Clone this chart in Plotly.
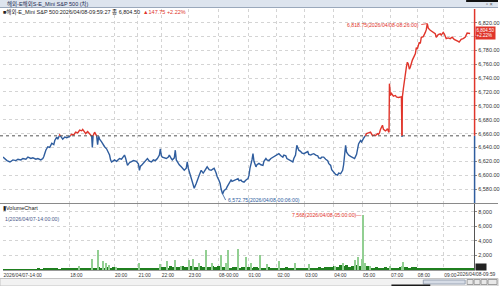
import plotly.graph_objects as go

# ---------------- data ----------------
title_text = "해외-E해외S-E_Mini S&P 500 (차)"
header_main = "■해외-E_Mini S&P 500:2026/04/08-09:59:27 종 6,804.50"
header_change = "▲147.75 +2.22%"
ref_price = 6656.75
last_price = 6804.50
last_change_pct = "+2.22%"

# time axis (bar-index positions of the hour labels)
tick_pos = [0, 67, 112, 135.5, 159, 186, 216.5, 246, 275, 303, 332, 361, 389, 416, 442.5]
tick_text = ["2026/04/07-14:00", "18:00", "20:00", "21:00", "22:00", "23:00", "08-00:00",
             "01:00", "02:00", "03:00", "04:00", "05:00", "07:00", "08:00", "09:00"]
end_label = "2026/04/08-09:59"
x_max = 473

price_ticks = [6580, 6600, 6620, 6640, 6660, 6680, 6700, 6720, 6740, 6760, 6780, 6800, 6820]
price_tick_text = ["6,580.00", "6,600.00", "6,620.00", "6,640.00", "6,660.00", "6,680.00", "6,700.00",
                   "6,720.00", "6,740.00", "6,760.00", "6,780.00", "", "6,820.00"]
vol_ticks = [2000, 4000, 6000, 8000]

# price line (bar index, price)
bar_idx = [0, 2, 4, 7, 10, 13, 15, 18, 20, 23, 25, 28, 30, 33, 35, 38, 40, 41, 43, 45, 47, 49, 51, 52,
           54, 55, 57, 59, 60, 62, 64, 67, 69, 71, 73, 75, 77, 79, 80, 82, 83, 85, 86, 88, 89, 89.7,
           90.5, 92, 94, 95, 96, 97, 99, 100, 102, 104, 106, 107, 108, 109, 111, 112, 114, 117, 119,
           122, 123, 125, 127, 129, 131, 134, 136, 137, 138, 139, 142, 144, 145, 147, 149, 151, 153,
           155, 157, 158, 159, 160, 162, 164, 166, 167, 169, 170, 172, 173, 174, 175, 177, 179, 181,
           182, 184, 185, 186, 187, 189, 190, 192, 194, 195, 197, 199, 201, 202, 204, 205, 207, 209,
           211, 212, 214, 215, 217, 218, 219, 220.5, 222, 224, 225, 227, 229, 230, 232, 234, 236, 237,
           239, 240, 242, 244, 246, 247, 248, 250, 251, 252, 254, 255, 257, 259, 261, 262, 264, 265,
           267, 269, 271, 272, 274, 275, 277, 279, 281, 282, 284, 285, 287, 289, 291, 292, 293.7, 295,
           297, 299, 300, 302, 304, 306, 307, 309, 310, 312, 314, 316, 317, 319, 320, 322, 324, 326,
           327, 329, 330, 332, 334, 336, 337, 339, 341, 342, 343, 344, 345, 347, 349, 351, 352, 353,
           355, 356, 357, 359, 360, 362, 363, 365, 367, 369, 371, 373, 374, 376, 377, 378, 379, 380,
           381, 382, 384, 385, 386, 387, 387.6, 388, 389, 390, 392, 394, 395, 397, 399, 400, 400.6,
           401, 402, 403, 404, 405, 406, 407, 408, 409, 411, 412, 414, 415, 416, 418, 419, 420, 422,
           424, 425, 426, 427, 429, 430, 432, 434, 435, 437, 439, 440, 442, 443, 445, 447, 449, 451,
           453, 455, 457, 458, 460, 462, 464, 466, 468, 469]
price = [6626, 6623, 6621, 6619, 6622, 6621, 6623, 6622, 6624, 6623, 6626, 6624, 6625, 6623, 6624, 6622,
         6624, 6627, 6636, 6641, 6640, 6646, 6644, 6650, 6655, 6652, 6658, 6654, 6652, 6655, 6654,
         6656, 6659, 6658, 6662, 6661, 6665, 6664, 6666, 6662, 6660, 6663, 6661, 6658, 6657, 6640,
         6657, 6662, 6657, 6644, 6656, 6652, 6648, 6645, 6641, 6638, 6632, 6629, 6622, 6619, 6621,
         6622, 6620, 6624, 6623, 6629, 6625, 6614, 6618, 6619, 6621, 6620, 6616, 6607, 6613, 6614,
         6619, 6621, 6624, 6620, 6619, 6622, 6621, 6624, 6629, 6638, 6628, 6626, 6625, 6624, 6626,
         6629, 6624, 6622, 6625, 6636, 6622, 6619, 6615, 6612, 6609, 6607, 6610, 6619, 6610, 6605,
         6595, 6590, 6581, 6588, 6593, 6600, 6607, 6603, 6605, 6610, 6612, 6608, 6607, 6609, 6610,
         6603, 6598, 6592, 6588, 6580, 6572.75, 6578, 6580, 6583, 6588, 6593, 6591, 6592, 6594, 6595,
         6592, 6593, 6591, 6590, 6593, 6595, 6600, 6610, 6622, 6631, 6620, 6612, 6615, 6617, 6615,
         6614, 6620, 6624, 6622, 6621, 6624, 6626, 6627, 6629, 6630, 6631, 6628, 6626, 6629, 6628,
         6624, 6622, 6620, 6619, 6624, 6629, 6643, 6636, 6634, 6632, 6631, 6632, 6634, 6630, 6629,
         6630, 6631, 6629, 6628, 6625, 6624, 6626, 6626, 6623, 6621, 6617, 6614, 6608, 6605, 6601,
         6600, 6603, 6602, 6607, 6615, 6626, 6643, 6633, 6629, 6627, 6626, 6625, 6624, 6630, 6641,
         6645, 6650, 6648, 6653, 6655, 6660, 6661, 6662, 6657, 6658, 6657, 6660, 6659, 6661, 6666,
         6670, 6672, 6666, 6664, 6665, 6667, 6663, 6662, 6732, 6715, 6718, 6714, 6715, 6713, 6712,
         6713, 6713, 6655, 6713, 6725, 6737, 6746, 6756, 6763, 6760, 6753, 6756, 6766, 6770, 6775,
         6784, 6782, 6792, 6790, 6799, 6800, 6806, 6810, 6818.75, 6812, 6809, 6808, 6806, 6804,
         6799, 6803, 6804, 6802, 6806, 6804, 6797, 6798, 6797, 6799, 6796, 6795, 6793, 6792, 6796,
         6797, 6799, 6805, 6804, 6804.5]

# volume: regular background bars + larger prints
base_vol = [80, 60, 110, 70, 90, 130, 60, 100, 80, 120, 70, 90, 150, 110,
            180, 140, 220, 160, 250, 130, 200, 170, 230,
            260, 190, 300, 220, 180, 280, 240,
            320, 260, 380, 300, 240, 350, 280, 400, 310, 260, 330,
            220, 180, 270, 200, 300, 160, 240, 210, 290, 190, 260, 230,
            380, 450, 320, 520, 410, 360, 480, 550, 390, 440, 500, 370, 460, 530, 420, 480, 390, 510,
            450, 560, 430, 470,
            400, 330, 450, 370, 300, 420, 350, 380, 310, 440, 360,
            280, 320, 240, 350, 260, 300, 220, 330, 270, 380, 250, 310, 290, 240, 340, 270, 300, 230,
            320, 260, 350, 290, 370, 410,
            480, 560, 420, 640, 520, 700, 460, 590, 650, 520, 610, 480, 550,
            320, 260, 380, 300, 240, 350, 280, 220, 310, 270,
            420, 360, 480, 300, 450, 380, 330,
            240, 180, 260, 150, 220, 200, 170, 250, 190, 140, 230, 180, 160, 210, 150, 190, 170, 220]
base_idx = list(range(0, 472, 3))
spike_idx = [77, 89.7, 96, 101, 103.7, 107, 113.7, 137, 157.7, 165.3, 173, 178.7, 187, 191.3, 197,
             204.3, 210.3, 218.7, 223.7, 226.3, 236.3, 243.7, 249.3, 258.7, 265.3, 277, 293.7, 307,
             333.7, 341.3, 353.7, 356.3, 360.3, 362, 363.7, 368.7, 388.7, 400.3, 402]
spike_vol = [500, 1560, 2700, 1230, 900, 700, 400, 900, 800, 1230, 1370, 600, 1370, 1500, 900,
             2700, 1000, 2000, 900, 2800, 2900, 1800, 1000, 2000, 800, 1230, 1000, 800,
             600, 1000, 1370, 1800, 1560, 7568, 1000, 600, 500, 600, 1100]
vol_max = 7568
vol_max_label = "7,568(2026/04/08-05:00:00)"
peak_label = "6,818.75(2026/04/08-08:26:00)"
low_label = "6,572.75(2026/04/08-00:06:00)"

# ---------------- helpers ----------------
W, H = 500, 286
def px(x):
    return x / W
def py(y):
    return 1 - y / H

RED = "#e0352b"
BLUE = "#2f5d9e"
FONT = "Liberation Sans, Arial, Noto Sans CJK KR, sans-serif"

# split the price line into parts above (red) and below (blue) the reference price
blue_x, blue_y, red_x, red_y = [], [], [], []
for i in range(len(price)):
    above = price[i] >= ref_price
    if i > 0:
        prev_above = price[i - 1] >= ref_price
        if above != prev_above:
            t = (ref_price - price[i - 1]) / (price[i] - price[i - 1])
            cx = bar_idx[i - 1] + t * (bar_idx[i] - bar_idx[i - 1])
            if prev_above:
                red_x += [cx, None]; red_y += [ref_price, None]
                blue_x.append(cx); blue_y.append(ref_price)
            else:
                blue_x += [cx, None]; blue_y += [ref_price, None]
                red_x.append(cx); red_y.append(ref_price)
    if above:
        red_x.append(bar_idx[i]); red_y.append(price[i])
    else:
        blue_x.append(bar_idx[i]); blue_y.append(price[i])

fig = go.Figure()
fig.add_trace(go.Scatter(x=blue_x, y=blue_y, mode="lines", line=dict(color=BLUE, width=1.4),
                         xaxis="x", yaxis="y", hoverinfo="skip", connectgaps=False))
fig.add_trace(go.Scatter(x=red_x, y=red_y, mode="lines", line=dict(color=RED, width=1.4),
                         xaxis="x", yaxis="y", hoverinfo="skip", connectgaps=False))
fig.add_trace(go.Bar(x=base_idx, y=base_vol, width=3.0, marker=dict(color="#1f7f1f", line=dict(width=0)),
                     xaxis="x2", yaxis="y2", hoverinfo="skip"))
fig.add_trace(go.Bar(x=spike_idx, y=spike_vol, width=1.4,
                     marker=dict(color="#92cf92", line=dict(width=0)),
                     xaxis="x2", yaxis="y2", hoverinfo="skip"))

y_lo = 6580 - (203 - 189) / 0.6929
y_hi = 6820 + (22.7 - 9) / 0.6929
v_hi = (270 - 204) / 14.6 * 2000

grid = dict(showgrid=True, gridcolor="#d4d4d4", griddash="dot", gridwidth=1, zeroline=False)

fig.update_layout(
    width=W, height=H, autosize=False,
    margin=dict(l=0, r=0, t=0, b=0),
    paper_bgcolor="white", plot_bgcolor="white",
    showlegend=False, barmode="overlay", bargap=0,
    font=dict(family=FONT, size=5.5, color="#333333"),
    xaxis=dict(domain=[px(3), px(476)], range=[0, x_max], anchor="y",
               tickvals=tick_pos, ticktext=tick_text, showticklabels=False, ticks="", **grid),
    xaxis2=dict(domain=[px(3), px(476)], range=[0, x_max], anchor="y2", matches="x",
                tickvals=tick_pos, ticktext=tick_text, ticks="", ticklabelposition="outside right",
                tickfont=dict(size=4.9, color="#333333"), showline=True, linecolor="#9a9a9a",
                linewidth=1, **grid),
    yaxis=dict(domain=[py(203), py(9)], range=[y_lo, y_hi], side="right", anchor="x",
               tickvals=price_ticks, ticktext=price_tick_text, ticks="outside", ticklen=2,
               tickcolor="#888888", tickfont=dict(size=5.5, color="#333333"), **grid),
    yaxis2=dict(domain=[py(270), py(204)], range=[0, v_hi], side="right", anchor="x2",
                tickvals=vol_ticks, tickformat=",d", ticks="outside", ticklen=2,
                tickcolor="#888888", tickfont=dict(size=5.5, color="#333333"),
                showline=True, linecolor="#555555", linewidth=1, **grid),
)

shapes = []
# title bar
shapes.append(dict(type="rect", xref="paper", yref="paper", x0=0, x1=1, y0=py(7.5), y1=1,
                   fillcolor="#dde4ee", line=dict(width=0), layer="below"))
shapes.append(dict(type="line", xref="paper", yref="paper", x0=0, x1=1, y0=py(7.5), y1=py(7.5),
                   line=dict(color="#9aa8bb", width=1)))
shapes.append(dict(type="rect", xref="paper", yref="paper", x0=px(468), x1=1, y0=py(2), y1=1,
                   fillcolor="#111111", line=dict(width=0)))
# reference price line
shapes.append(dict(type="line", xref="paper", yref="y", x0=0, x1=px(476), y0=ref_price, y1=ref_price,
                   line=dict(color="#555555", width=1, dash="dot")))
# price axis line, red above / blue below the reference
shapes.append(dict(type="line", xref="paper", yref="y", x0=px(476.5), x1=px(476.5), y0=ref_price, y1=y_hi,
                   line=dict(color=RED, width=1.5)))
shapes.append(dict(type="line", xref="paper", yref="y", x0=px(476.5), x1=px(476.5), y0=y_lo, y1=ref_price,
                   line=dict(color=BLUE, width=1.5)))
# panel separator
shapes.append(dict(type="line", xref="paper", yref="paper", x0=0, x1=1, y0=py(203.5), y1=py(203.5),
                   line=dict(color="#8a8a8a", width=1)))
# scroll bar
shapes.append(dict(type="rect", xref="paper", yref="paper", x0=0, x1=1, y0=0, y1=py(278.5),
                   fillcolor="#f2f2f2", line=dict(color="#c4c4c4", width=1)))
shapes.append(dict(type="rect", xref="paper", yref="paper", x0=px(425), x1=px(467), y0=py(284), y1=py(280),
                   fillcolor="#d6dce6", line=dict(color="#9aa4b4", width=1)))
for bx0 in (469, 476, 483):
    shapes.append(dict(type="rect", xref="paper", yref="paper", x0=px(bx0), x1=px(bx0 + 6),
                       y0=py(284.5), y1=py(279.5), fillcolor="#e8e8e8",
                       line=dict(color="#8a8a8a", width=0.8)))
shapes.append(dict(type="rect", xref="paper", yref="paper", x0=px(490), x1=px(499),
                   y0=py(284.5), y1=py(279.5), fillcolor="#e8e8e8", line=dict(color="#8a8a8a", width=0.8)))
shapes.append(dict(type="rect", xref="paper", yref="paper", x0=px(393), x1=px(432), y0=0, y1=py(284.5),
                   fillcolor="#1a1a1a", line=dict(width=0)))
fig.update_layout(shapes=shapes)

ann = []
ann.append(dict(xref="paper", yref="paper", x=px(5), y=py(3.8), xanchor="left", yanchor="middle",
                text=title_text, showarrow=False, font=dict(size=5.5, color="#1c2a50")))
ann.append(dict(xref="paper", yref="paper", x=px(1), y=py(12), xanchor="left", yanchor="middle",
                text=header_main + "  " + '<span style="color:' + RED + '">' + header_change + "</span>",
                showarrow=False, font=dict(size=5.5, color="#222222")))
ann.append(dict(xref="paper", yref="paper", x=px(497), y=py(4.5), xanchor="right", yanchor="middle",
                text="▫ ×", showarrow=False, font=dict(size=5.5, color="#555555")))
# peak / low annotations
pk = price.index(max(price))
ann.append(dict(x=bar_idx[pk], y=price[pk], xref="x", yref="y", text=peak_label, showarrow=True,
                arrowhead=0, arrowwidth=0.8, arrowcolor=RED, ax=-6, ay=1, xanchor="right",
                yanchor="middle", font=dict(size=5.2, color=RED)))
lo = price.index(min(price))
ann.append(dict(x=bar_idx[lo], y=price[lo], xref="x", yref="y", text=low_label, showarrow=True,
                arrowhead=0, arrowwidth=0.8, arrowcolor=BLUE, ax=3, ay=6, xanchor="left",
                yanchor="middle", font=dict(size=5.2, color=BLUE)))
# last price box
ann.append(dict(xref="paper", yref="y", x=px(477), y=last_price, xanchor="left", yanchor="middle",
                text="{:,.2f}<br>{}".format(last_price, last_change_pct), showarrow=False,
                bgcolor=RED, font=dict(size=4.5, color="white"), borderpad=0.5, align="left"))
# volume panel labels
ann.append(dict(xref="paper", yref="paper", x=px(1), y=py(207.5), xanchor="left", yanchor="middle",
                text="▮VolumeChart", showarrow=False, font=dict(size=5.5, color="#222222")))
ann.append(dict(xref="paper", yref="paper", x=px(3), y=py(219), xanchor="left", yanchor="middle",
                text="1(2026/04/07-14:00:00)", showarrow=False, font=dict(size=5.2, color="#4a5a8a")))
vm = spike_vol.index(vol_max)
ann.append(dict(x=spike_idx[vm], y=vol_max, xref="x2", yref="y2", text=vol_max_label + "—",
                showarrow=False, xanchor="right", yanchor="middle", xshift=0,
                font=dict(size=5.2, color=RED)))
ann.append(dict(xref="paper", yref="paper", x=px(477), y=py(266.5), xanchor="left", yanchor="middle",
                text="&nbsp;&nbsp;&nbsp;&nbsp;&nbsp;&nbsp;&nbsp;&nbsp;", showarrow=False,
                bgcolor="#222222", font=dict(size=4, color="white"), borderpad=0.5))
ann.append(dict(xref="paper", yref="paper", x=px(499.5), y=py(274.5), xanchor="right", yanchor="middle",
                text=end_label, showarrow=False, font=dict(size=4.9, color="#333333")))
fig.update_layout(annotations=ann)

fig.write_html("out.html")
